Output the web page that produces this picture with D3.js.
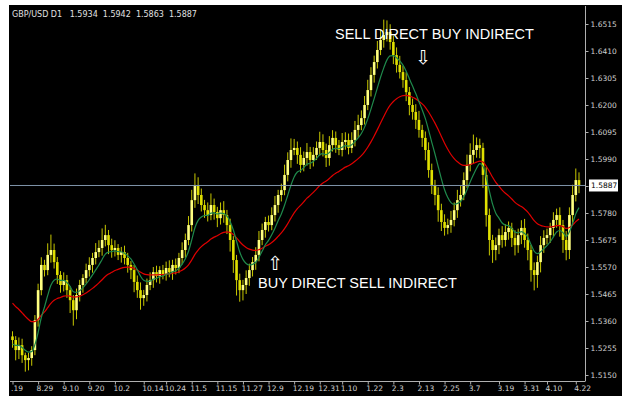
<!DOCTYPE html>
<html><head><meta charset="utf-8">
<script src="https://d3js.org/d3.v7.min.js"></script>
<style>body{margin:0;background:#fff;}svg{display:block;}</style>
</head><body><svg id="c" width="629" height="400"></svg>
<script>
const closes=[1.5286,1.5247,1.5266,1.5227,1.5208,1.5216,
1.5247,1.5363,1.5480,1.5578,
1.5558,1.5617,1.5636,1.5589,
1.5539,1.5500,1.5519,1.5480,
1.5441,1.5402,1.5461,
1.5500,1.5527,1.5558,1.5578,1.5605,
1.5628,1.5644,1.5675,1.5694,1.5655,
1.5636,1.5644,1.5617,1.5628,1.5605,
1.5578,1.5558,1.5512,1.5480,1.5449,
1.5461,1.5500,1.5519,1.5550,1.5535,
1.5558,1.5542,1.5566,1.5550,1.5578,
1.5566,1.5605,1.5636,1.5675,1.5733,
1.5830,1.5889,1.5850,1.5811,
1.5791,1.5772,1.5811,1.5784,1.5760,1.5791,
1.5772,1.5733,1.5675,1.5597,1.5519,
1.5480,1.5500,1.5527,1.5558,
1.5589,1.5617,1.5675,1.5714,1.5745,
1.5733,1.5772,1.5811,1.5850,1.5869,
1.5928,1.5986,1.6025,1.6033,1.6006,
1.5967,1.5994,1.6017,1.5986,1.6006,
1.6033,1.6056,1.6025,1.5994,1.6044,
1.6072,1.6044,1.6025,1.6056,1.6064,
1.6033,1.6064,1.6103,1.6122,1.6149,
1.6200,1.6258,1.6317,1.6367,1.6414,
1.6453,1.6472,1.6484,1.6445,1.6394,
1.6356,1.6328,1.6297,1.6250,1.6200,
1.6173,1.6142,1.6103,1.6072,1.6025,
1.5947,1.5889,1.5850,1.5791,1.5745,
1.5722,1.5733,1.5753,1.5791,1.5830,
1.5850,1.5908,1.5967,1.6006,1.6025,
1.6044,1.6033,1.5928,1.5772,
1.5675,1.5636,1.5655,1.5694,1.5675,
1.5706,1.5722,1.5683,1.5655,1.5694,
1.5722,1.5675,1.5636,1.5558,1.5539,
1.5589,1.5655,1.5683,1.5694,
1.5722,1.5753,1.5772,1.5733,
1.5675,1.5636,1.5772,
1.5850,1.5908,1.5887];
const firstOpen=1.5300;
// wick extensions in pips (above / below body)
const upPips=[20,15,30,25,10,20,15,20,25,30,20,45,60,25,20,15,30,20,15,20,25,20,15,25,30,20,35,30,45,40,20,25,30,15,20,25,20,15,20,25,30,20,25,30,20,25,15,20,25,30,20,25,20,30,25,35,40,45,30,25,20,30,45,25,20,30,35,20,25,15,20,25,20,30,25,20,30,35,25,20,25,30,35,20,25,40,30,45,35,25,30,25,35,20,30,25,40,30,25,35,30,25,20,35,30,25,30,35,40,30,35,40,30,25,35,40,60,45,30,25,30,35,25,30,20,25,30,35,20,25,30,25,20,30,25,30,25,35,30,40,35,30,40,45,60,30,25,20,30,25,20,30,25,35,30,25,20,30,25,30,35,25,20,30,25,35,30,25,20,30,25,30,20,35,30,40,45,30];
const dnPips=[30,40,35,30,45,40,30,20,25,20,25,20,30,25,35,30,25,30,50,60,35,25,30,20,25,30,25,20,30,25,35,30,25,20,30,25,30,35,40,30,45,30,25,20,30,25,30,20,25,20,30,25,20,25,30,20,25,30,35,25,30,25,20,30,35,25,30,35,45,50,60,45,40,35,30,25,30,25,20,30,25,20,25,30,25,20,25,30,20,35,30,25,30,35,25,20,30,25,35,30,25,30,20,25,30,25,20,25,30,20,25,20,25,30,25,20,30,25,30,35,30,25,30,35,40,30,35,30,35,40,30,35,40,45,35,30,25,30,25,30,25,20,30,25,35,30,40,50,45,60,50,40,35,30,25,30,35,40,30,35,30,40,45,60,50,40,30,25,30,35,30,45,50,40,35,30,25,30];
const yTicks=[1.5150,1.5255,1.5360,1.5465,1.5570,1.5675,1.5780,1.5885,1.5990,1.6095,1.6200,1.6305,1.6410,1.6515];
const xLabels=[".19","8.29","9.10","9.20","10.2","10.14","10.24","11.5","11.15","11.27","12.9","12.19","12.31","1.10","1.22","2.3","2.13","2.25","3.7","3.19","3.31","4.10","4.22"];
const xLabelBars=[0,8,16,24,32,41,48,56,64,72,80,88,96,103,111,119,127,135,143,152,160,167,176];
const lastPrice=1.5887;
const header="GBP/USD D1   1.5934  1.5942  1.5863  1.5887";
const fastSeed=1.5266, slowSeed=1.5441, fastPeriod=8, slowPeriod=26;

const svg=d3.select("#c");
const L=10,R=585,T=6,B=381;
svg.append("rect").attr("x",9).attr("y",5).attr("width",613).attr("height",391).attr("fill","#000");
const x=d3.scaleLinear().domain([0,closes.length-1]).range([12.5,579]);
const y=d3.scaleLinear().domain([1.5150,1.6515]).range([375,24]);

const bars=closes.map((c,i)=>{const o=i?closes[i-1]:firstOpen;
 return {i,o,c,h:Math.max(o,c)+upPips[i]/10000,l:Math.min(o,c)-dnPips[i]/10000};});
const ema=(p,seed)=>{let v=seed,k=2/(p+1);return closes.map(c=>v=v+k*(c-v));};
const fast=ema(fastPeriod,fastSeed), slow=ema(slowPeriod,slowSeed);

const g=svg.append("g");
g.selectAll("line.w").data(bars).join("line").attr("x1",d=>x(d.i)).attr("x2",d=>x(d.i))
 .attr("y1",d=>y(d.h)).attr("y2",d=>y(d.l)).attr("stroke","#c8c800").attr("stroke-width",1);
g.selectAll("rect.b").data(bars).join("rect").attr("x",d=>x(d.i)-1.3).attr("width",2.6)
 .attr("y",d=>y(Math.max(d.o,d.c))).attr("height",d=>Math.max(1,Math.abs(y(d.o)-y(d.c))))
 .attr("fill",d=>d.c>=d.o?"#ffff80":"#e0e000");
const line=d3.line().x((d,i)=>x(i)).y(d=>y(d)).curve(d3.curveMonotoneX);
svg.append("path").attr("d",line(slow)).attr("fill","none").attr("stroke","#e00000").attr("stroke-width",1.2);
svg.append("path").attr("d",line(fast)).attr("fill","none").attr("stroke","#1f8a4c").attr("stroke-width",1.2);

svg.append("line").attr("x1",L).attr("x2",R).attr("y1",y(lastPrice)).attr("y2",y(lastPrice)).attr("stroke","#7f93a8").attr("stroke-width",1);

svg.append("line").attr("x1",R+0.5).attr("x2",R+0.5).attr("y1",T).attr("y2",B).attr("stroke","#b0b0b0");
svg.append("line").attr("x1",L).attr("x2",R+0.5).attr("y1",B+0.5).attr("y2",B+0.5).attr("stroke","#b0b0b0");
const ya=svg.append("g").attr("transform",`translate(${R+0.5},0)`).call(d3.axisRight(y).tickValues(yTicks).tickSize(3).tickFormat(d3.format(".4f")));
ya.select(".domain").remove();
ya.selectAll("line").attr("stroke","#b0b0b0");
ya.selectAll("text").attr("fill","#d0d0d0").attr("font-family","DejaVu Sans").attr("font-size",7.5).attr("x",5);
const xa=svg.append("g").attr("transform",`translate(0,${B+0.5})`).call(d3.axisBottom(x).tickValues(xLabelBars).tickSize(3).tickFormat((d,i)=>xLabels[i]));
xa.select(".domain").remove();
xa.selectAll("line").attr("stroke","#b0b0b0");
xa.selectAll("text").attr("fill","#d0d0d0").attr("font-family","DejaVu Sans").attr("font-size",7.5).attr("dy","0.5em").attr("text-anchor","start").attr("dx",-2);

const py=y(lastPrice);
svg.append("rect").attr("x",589).attr("y",py-6).attr("width",29).attr("height",12).attr("fill","#fff");
svg.append("text").attr("x",591).attr("y",py+3).text(d3.format(".4f")(lastPrice)).attr("font-family","DejaVu Sans").attr("font-size",7.5).attr("fill","#000");

svg.append("text").attr("x",12).attr("y",17).text(header).attr("fill","#e0e0e0").attr("font-family","DejaVu Sans").attr("font-size",8).style("white-space","pre");

const ann=(t,tx,ty)=>svg.append("text").attr("x",tx).attr("y",ty).text(t).attr("fill","#fff").attr("font-family","Liberation Sans").attr("font-size",14.5);
ann("SELL DIRECT BUY INDIRECT",335,39);
ann("BUY DIRECT SELL INDIRECT",258,288);
svg.append("text").attr("x",415).attr("y",64).text("⇩").attr("fill","#fff").attr("font-family","DejaVu Sans").attr("font-size",19);
svg.append("text").attr("x",267).attr("y",270).text("⇧").attr("fill","#fff").attr("font-family","DejaVu Sans").attr("font-size",19);
</script></body></html>
